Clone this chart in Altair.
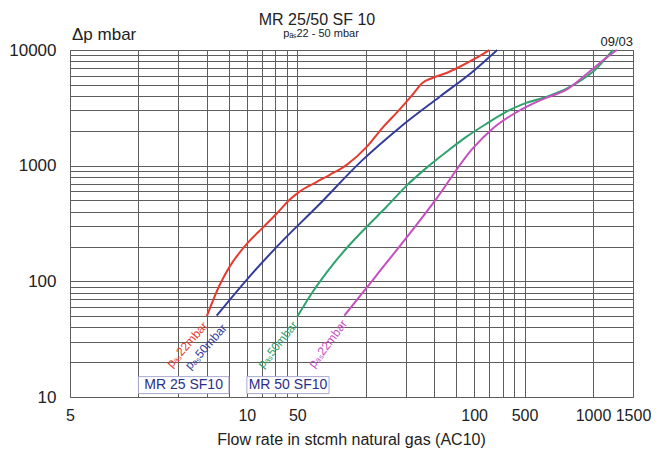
import altair as alt
import pandas as pd

# ---- data (x in the chart's underlying log-grid units, y = Δp in mbar) ----
red_x = [4.0, 4.56, 5.04, 6.05, 7.04, 8.11, 9.25, 10.2, 12.2, 13.9, 16.5, 20.2, 23.7, 28.1, 32.1, 35.5, 39.3, 45.3, 51.6, 61.3, 69.9]
red_y = [50, 93.5, 134, 215, 290, 384, 507, 594, 725, 833, 1016, 1453, 2121, 3033, 4087, 5188, 5731, 6330, 7130, 8530, 10000]

blue_x = [4.42, 5.99, 8.36, 12.2, 19.4, 28.1, 42.2, 58.9, 75.8]
blue_y = [50.5, 103, 211, 441, 1122, 2121, 3928, 6457, 10000]

green_x = [10.0, 11.7, 14.3, 17.0, 20.2, 24.7, 30.2, 37.0, 45.3, 55.4, 67.8, 83.0, 101.6, 124.4, 152.3, 186.4, 206.3, 228.2, 244.9]
green_y = [49.5, 81.3, 139, 207, 296, 441, 669, 957, 1316, 1773, 2296, 2915, 3486, 3928, 4605, 5846, 6850, 8530, 10000]

magenta_x = [16.1, 22.1, 40.9, 58.9, 72.1, 88.3, 106, 124.4, 152.3, 192.2, 228.2, 255.0]
magenta_y = [50.5, 110, 517, 1397, 2079, 2756, 3350, 3850, 4513, 6457, 8530, 10000]

series_names = ["MR25 pas22", "MR25 pas50", "MR50 pas50", "MR50 pas22"]
series_colors = ["#e63b2e", "#343c9c", "#2ea36e", "#c64fbf"]

x_grid = [1, 2, 3, 4, 5, 6, 7, 8, 9, 10, 20, 30, 40, 50, 60, 70, 80, 90, 100, 200, 300]
y_grid = [10, 20, 30, 40, 50, 60, 70, 80, 90, 100, 200, 300, 400, 500, 600, 700, 800, 900,
          1000, 2000, 3000, 4000, 5000, 6000, 7000, 8000, 9000, 10000]
x_tick_at = [1, 6, 10, 60, 100, 200, 300]
x_tick_text = ["5", "10", "50", "100", "500", "1000", "1500"]
y_tick_at = [10, 100, 1000, 10000]

label_texts = ["p\u2090\u209b22mbar", "p\u2090\u209b50mbar", "p\u2090\u209b50mbar", "p\u2090\u209b22mbar"]
label_x = [3.27, 3.96, 8.19, 13.6]
label_y = [28.4, 27.2, 28.4, 28.9]
label_angle = [311, 311.5, 309, 307]

box_texts = ["MR 25 SF10", "MR 50 SF10"]
box_x = [2, 6]
box_x2 = [5, 13.8]
box_y = [15.0, 15.0]
box_y2 = [10.7, 10.7]

FONT = "Liberation Sans"
GRID = "#5e5e5e"

rows = []
for name, xs, ys in zip(series_names, [red_x, blue_x, green_x, magenta_x],
                        [red_y, blue_y, green_y, magenta_y]):
    for i, (a, b) in enumerate(zip(xs, ys)):
        rows.append({"x": a, "y": b, "series": name, "order": i})
df = pd.DataFrame(rows)

lbl_expr = " : ".join(
    [f"round(datum.value)=={v} ? '{t}'" for v, t in zip(x_tick_at, x_tick_text)]
) + " : ''"
ylbl_expr = " || ".join([f"round(datum.value)=={v}" for v in y_tick_at]) + " ? format(datum.value, 'd') : ''"

xscale = alt.Scale(type="log", domain=[1, 300], nice=False)
yscale = alt.Scale(type="log", domain=[10, 10000], nice=False)

xaxis = alt.Axis(values=x_grid, grid=True, gridColor=GRID, gridWidth=1, gridOpacity=1,
                 ticks=False, tickSize=0, domain=False, labelExpr=lbl_expr, labelFlush=False,
                 labelOverlap=False, labelFontSize=16, labelFont=FONT, labelColor="#222222",
                 labelPadding=10, title=None)
yaxis = alt.Axis(values=y_grid, grid=True, gridColor=GRID, gridWidth=1, gridOpacity=1,
                 ticks=False, tickSize=0, domain=False, labelExpr=ylbl_expr,
                 labelOverlap=False, labelFontSize=17, labelFont=FONT, labelColor="#222222",
                 labelPadding=14, title=None, labelFlush=False)

lines = alt.Chart(df).mark_line(strokeWidth=2, interpolate="monotone").encode(
    x=alt.X("x:Q", scale=xscale, axis=xaxis),
    y=alt.Y("y:Q", scale=yscale, axis=yaxis),
    color=alt.Color("series:N", scale=alt.Scale(domain=series_names, range=series_colors), legend=None),
    order="order:Q",
)

lab_df = pd.DataFrame({"x": label_x, "y": label_y, "t": label_texts,
                       "a": label_angle, "c": series_colors})
curve_labels = alt.Chart(lab_df).mark_text(font=FONT, fontSize=12, align="center",
                                           baseline="middle").encode(
    x=alt.X("x:Q", scale=xscale),
    y=alt.Y("y:Q", scale=yscale),
    text="t:N",
    angle=alt.Angle("a:Q", scale=None),
    color=alt.Color("c:N", scale=None),
)

box_df = pd.DataFrame({"x": box_x, "x2": box_x2, "y": box_y, "y2": box_y2, "t": box_texts})
boxes = alt.Chart(box_df).mark_rect(fill="white", stroke="#a8a8d0", strokeWidth=1).encode(
    x=alt.X("x:Q", scale=xscale), x2="x2:Q",
    y=alt.Y("y:Q", scale=yscale), y2="y2:Q",
)
box_df["xm"] = [(a * b) ** 0.5 for a, b in zip(box_x, box_x2)]
box_df["ym"] = [(a * b) ** 0.5 for a, b in zip(box_y, box_y2)]
box_text = alt.Chart(box_df).mark_text(font=FONT, fontSize=14, color="#2b2f8a",
                                       align="center", baseline="middle").encode(
    x=alt.X("xm:Q", scale=xscale),
    y=alt.Y("ym:Q", scale=yscale),
    text="t:N",
)

one = pd.DataFrame({"k": [0]})


def ann(text, px, py, size, align="left", color="#222222"):
    return alt.Chart(one).mark_text(font=FONT, fontSize=size, align=align,
                                    baseline="alphabetic", color=color).encode(
        x=alt.value(px), y=alt.value(py), text=alt.value(text))


title = ann("MR 25/50 SF 10", 247, -25, 16, "center")
subtitle = ann("p\u2090\u209b22 - 50 mbar", 251, -13, 11, "center")
ylab = ann("\u0394p mbar", 2, -10, 17, "left")
date = ann("09/03", 563, -4, 13, "right")
xtitle = ann("Flow rate in stcmh natural gas (AC10)", 281.5, 395, 16, "center")

chart = alt.layer(lines, boxes, box_text, curve_labels, title, subtitle, ylab, date, xtitle).properties(
    width=563, height=347,
    padding={"left": 62, "top": 42, "right": 18, "bottom": 52},
    autosize=alt.AutoSizeParams(type="none"),
).configure_view(stroke=GRID, strokeWidth=1)

chart.save("out.html", embed_options={"renderer": "svg", "actions": False})
